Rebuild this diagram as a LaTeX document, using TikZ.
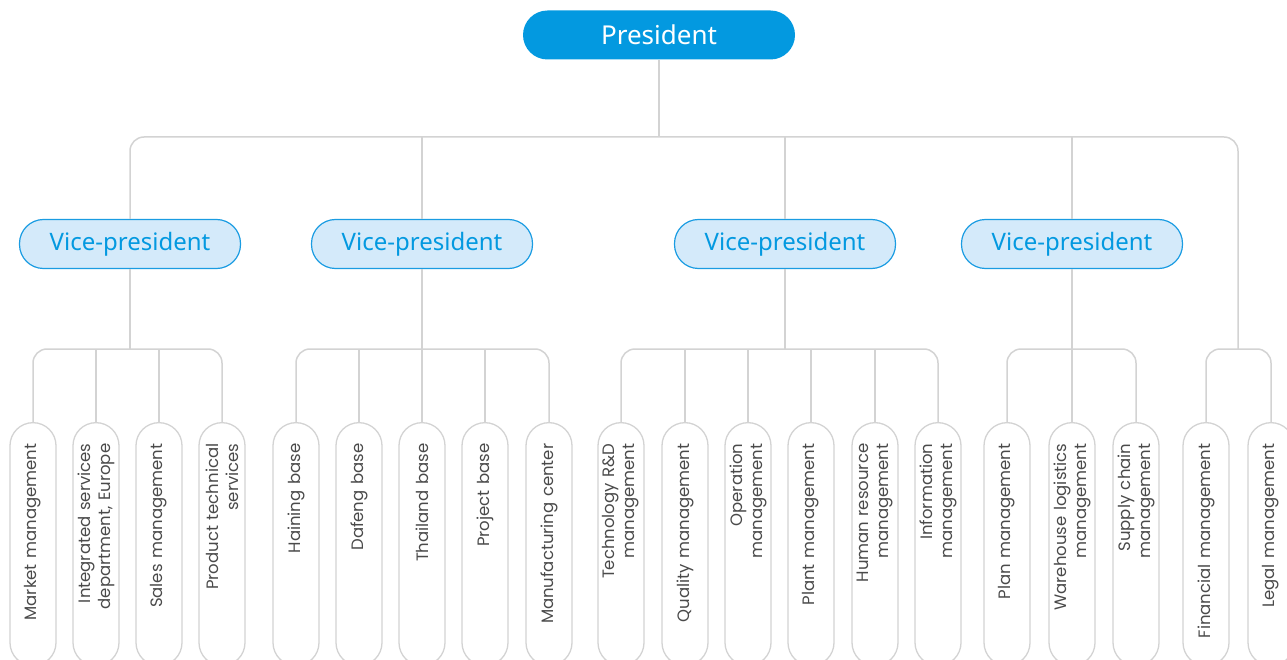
\documentclass[tikz,border=0pt]{standalone}
\usepackage{fontspec}
\setmainfont{Noto Sans}
\newfontfamily\deptfont{Poppins}
\usepackage{tikz}
\usetikzlibrary{positioning}
\definecolor{azul}{HTML}{0399E0}
\definecolor{azulclaro}{HTML}{D4EAFA}
\definecolor{borde}{HTML}{1A9CE2}
\definecolor{linea}{HTML}{D3D3D3}
\definecolor{texto}{HTML}{4A4A4A}
\tikzstyle{president} = [fill=azul, text=white, rectangle, rounded corners=24.5pt, minimum width=272pt, minimum height=49pt, font=\fontsize{26}{30}\selectfont]
\tikzstyle{vice} = [draw=borde, fill=azulclaro, text=azul, line width=1.2pt, rectangle, rounded corners=24pt, minimum width=221pt, minimum height=49pt, font=\fontsize{24}{28}\selectfont]
\tikzstyle{dept} = [draw=linea, line width=1.3pt, rectangle, rounded corners=23pt, rotate=90, anchor=east, minimum height=46pt, text width=201pt, inner xsep=21pt, inner ysep=0pt, align=right, text=texto, font=\deptfont\fontsize{16.5}{20}\selectfont]
\tikzstyle{conector} = [draw=linea, line width=1.5pt, rounded corners=14pt]

\begin{document}
\begin{tikzpicture}[x=1pt, y=-1pt]
	\useasboundingbox (0,0) rectangle (1287,660);
	\node[president] (pres) at (659,35) {President};
	\node[vice] (vp1) at (130,244) {Vice-president};
	\node[vice] (vp2) at (422,244) {Vice-president};
	\node[vice] (vp3) at (785,244) {Vice-president};
	\node[vice] (vp4) at (1072,244) {Vice-president};

	\node[dept] (market) at (33,422) {Market management};
	\node[dept] (europe) at (96,422) {Integrated services\\department, Europe};
	\node[dept] (sales) at (159,422) {Sales management};
	\node[dept] (product) at (222,422) {Product technical\\services};

	\node[dept] (haining) at (296,422) {Haining base};
	\node[dept] (dafeng) at (359,422) {Dafeng base};
	\node[dept] (thailand) at (422,422) {Thailand base};
	\node[dept] (project) at (485,422) {Project base};
	\node[dept] (manufacturing) at (549,422) {Manufacturing center};

	\node[dept] (technology) at (621,422) {Technology R\&D\\management};
	\node[dept] (quality) at (685,422) {Quality management};
	\node[dept] (operation) at (748,422) {Operation\\management};
	\node[dept] (plant) at (811,422) {Plant management};
	\node[dept] (human) at (875,422) {Human resource\\management};
	\node[dept] (information) at (938,422) {Information\\management};

	\node[dept] (plan) at (1007,422) {Plan management};
	\node[dept] (warehouse) at (1072,422) {Warehouse logistics\\management};
	\node[dept] (supply) at (1136,422) {Supply chain\\management};

	\node[dept] (financial) at (1206,422) {Financial management};
	\node[dept] (legal) at (1271,422) {Legal management};

	\coordinate (top) at (659,137);
	\coordinate (bus) at (0,349);
	\coordinate (g5) at (1238,349);

	\draw[conector] (pres.south) -- (top);
	\draw[conector] (vp1.north) -- (vp1.north |- top) -- (g5 |- top) -- (g5);
	\draw[conector] (vp2.north) -- (vp2.north |- top);
	\draw[conector] (vp3.north) -- (vp3.north |- top);
	\draw[conector] (vp4.north) -- (vp4.north |- top);

	\draw[conector] (market.east) -- (market.east |- bus) -- (product.east |- bus) -- (product.east);
	\draw[conector] (europe.east) -- (europe.east |- bus);
	\draw[conector] (sales.east) -- (sales.east |- bus);
	\draw[conector] (vp1.south) -- (vp1.south |- bus);

	\draw[conector] (haining.east) -- (haining.east |- bus) -- (manufacturing.east |- bus) -- (manufacturing.east);
	\draw[conector] (dafeng.east) -- (dafeng.east |- bus);
	\draw[conector] (thailand.east) -- (thailand.east |- bus);
	\draw[conector] (project.east) -- (project.east |- bus);
	\draw[conector] (vp2.south) -- (vp2.south |- bus);

	\draw[conector] (technology.east) -- (technology.east |- bus) -- (information.east |- bus) -- (information.east);
	\draw[conector] (quality.east) -- (quality.east |- bus);
	\draw[conector] (operation.east) -- (operation.east |- bus);
	\draw[conector] (plant.east) -- (plant.east |- bus);
	\draw[conector] (human.east) -- (human.east |- bus);
	\draw[conector] (vp3.south) -- (vp3.south |- bus);

	\draw[conector] (plan.east) -- (plan.east |- bus) -- (supply.east |- bus) -- (supply.east);
	\draw[conector] (warehouse.east) -- (warehouse.east |- bus);
	\draw[conector] (vp4.south) -- (vp4.south |- bus);

	\draw[conector] (financial.east) -- (financial.east |- bus) -- (legal.east |- bus) -- (legal.east);
\end{tikzpicture}
\end{document}
